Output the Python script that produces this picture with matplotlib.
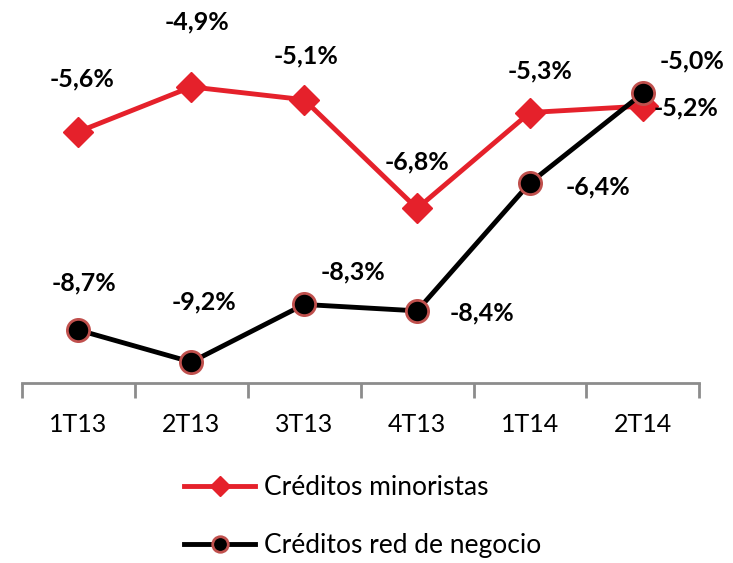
import numpy as np
import matplotlib.pyplot as plt

# datos
trimestres = ["1T13", "2T13", "3T13", "4T13", "1T14", "2T14"]
minoristas = [-5.6, -4.9, -5.1, -6.8, -5.3, -5.2]
red_negocio = [-8.7, -9.2, -8.3, -8.4, -6.4, -5.0]

# desplazamientos de las etiquetas (pixeles)
off_min = [(4, 53), (6, 65), (2, 44), (0, 47), (10, 42), (43, -2)]
off_red = [(6, 47), (13, 60), (49, 33), (65, -2), (68, -4), (49, 32)]

rojo = "#e5212b"
plt.rcParams['font.family'] = ['Lato', 'DejaVu Sans']

fig = plt.figure(figsize=(7.33, 5.63), dpi=100)
ax = fig.add_axes([0.030, 0.320, 0.924, 0.662])

x = np.arange(len(trimestres))
ax.plot(x, minoristas, color=rojo, lw=3.5, marker="D", ms=15,
        mfc=rojo, mec=rojo, label="Créditos minoristas", zorder=3)
ax.plot(x, red_negocio, color="black", lw=3.5, marker="o", ms=16,
        mfc="black", mec="#c0504d", mew=2, label="Créditos red de negocio", zorder=4)

for i, v in enumerate(minoristas):
    ax.annotate(f"{v:.1f}%".replace(".", ","), (x[i], v), xytext=off_min[i],
                textcoords="offset pixels", ha="center", va="center",
                fontsize=18, fontweight="bold")
for i, v in enumerate(red_negocio):
    ax.annotate(f"{v:.1f}%".replace(".", ","), (x[i], v), xytext=off_red[i],
                textcoords="offset pixels", ha="center", va="center",
                fontsize=18, fontweight="bold")

ax.set_xlim(-0.5, len(trimestres) - 0.5)
ax.set_ylim(-9.525, -3.70)
ax.set_xticks(x)
ax.set_xticklabels(trimestres, fontsize=18)
ax.set_xticks(np.arange(-0.5, len(trimestres)), minor=True)
ax.tick_params(axis="x", which="major", length=0, pad=22)
ax.tick_params(axis="x", which="minor", length=11, width=2, color="#8c8c8c")
ax.set_yticks([])
for s in ["left", "right", "top"]:
    ax.spines[s].set_visible(False)
ax.spines["bottom"].set_color("#8c8c8c")
ax.spines["bottom"].set_linewidth(2)

fig.legend(loc="center", bbox_to_anchor=(0.495, 0.082), frameon=False,
           fontsize=19, labelspacing=1.25, handlelength=2.7, handletextpad=0.35,
           markerscale=0.7)

fig.savefig("out.png", dpi=100)
